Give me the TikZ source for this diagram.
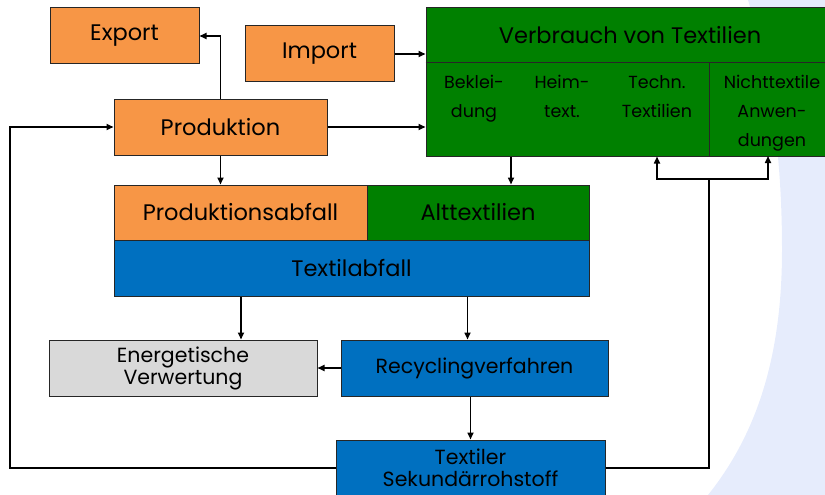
\documentclass[tikz,border=0pt]{standalone}
\usepackage{fontspec}
\setmainfont{Poppins}
\usepackage{tikz}
\usetikzlibrary{arrows.meta,positioning,calc}
\definecolor{figorange}{RGB}{247,150,70}
\definecolor{figgreen}{RGB}{0,128,0}
\definecolor{figblue}{RGB}{0,112,192}
\definecolor{figgray}{RGB}{217,217,217}
\definecolor{figback}{RGB}{230,236,252}
\tikzset{
  fnode/.style={draw=black!85,line width=1pt,align=center,inner sep=0pt,
                minimum height=56pt,font=\fontsize{22.5}{26}\selectfont},
  forange/.style={fnode,fill=figorange},
  fgreen/.style={fnode,fill=figgreen},
  fblue/.style={fnode,fill=figblue},
  fgray/.style={fnode,fill=figgray},
  fsmall/.style={font=\fontsize{20.5}{22}\selectfont},
  fsub/.style={align=center,inner sep=0pt,font=\fontsize{17.5}{29}\selectfont},
  fline/.style={black,line width=1.6pt},
  farrow/.style={fline,-{Triangle[length=7pt,width=6pt]}},
}

\begin{document}
\begin{tikzpicture}[x=1pt,y=-1pt]
    \useasboundingbox (0,0) rectangle (825,495);
    \clip (0,0) rectangle (825,495);
    \fill[figback] (748,0) .. controls (772,80) and (782,160) .. (782,250)
          .. controls (782,350) and (760,430) .. (708,495) -- (825,495) -- (825,0) -- cycle;
    \node[forange,minimum width=149pt] (export) at (124.5,36) {Export};
    \node[forange,minimum width=149pt] (import) at (319.5,54) {Import};
    \node[forange,minimum width=213pt] (prod) at (220.5,127) {Produktion};
    \node[fgreen,minimum width=414pt,minimum height=148pt] (verbrauch) at (633,82) {};
    \node[font=\fontsize{22.5}{26}\selectfont] (vtitle) at (630,35) {Verbrauch von Textilien};
    \draw[line width=1pt,black!85] (verbrauch.west |- 0,63) -- (verbrauch.east |- 0,63);
    \draw[line width=1pt,black!85] (709,63) -- (709,156);
    \node[fsub,anchor=north] (bekl) at (474,75) {Beklei-\\dung};
    \node[fsub,anchor=north] (heim) at (562,75) {Heim-\\text.};
    \node[fsub,anchor=north] (techn) at (657,75) {Techn.\\Textilien};
    \node[fsub,anchor=north] (nicht) at (772,75) {Nichttextile\\Anwen-\\dungen};
    \node[forange,minimum width=253pt,minimum height=55pt] (pabfall) at (240.5,212.5) {Produktionsabfall};
    \node[fgreen,minimum width=222pt,minimum height=55pt] (alttex) at (478,212.5) {Alttextilien};
    \node[fblue,minimum width=475pt] (tabfall) at (351.5,268) {Textilabfall};
    \node[fgray,fsmall,minimum width=268pt] (energ) at (183,368) {Energetische\\Verwertung};
    \node[fblue,fsmall,minimum width=267pt] (recyc) at (474.5,368) {Recyclingverfahren};
    \node[fblue,fsmall,minimum width=269pt] (sekund) at (470.5,468) {Textiler\\Sekundärrohstoff};
    \path ([xshift=33pt]alttex.north) coordinate (altin)
          ([xshift=58pt]energ.north) coordinate (enin)
          ([xshift=-7pt]recyc.north) coordinate (rcin);
    \coordinate (retl) at (10,127);
    \coordinate (split) at (709,179);
    \coordinate (nin) at (768,156);
    \draw[farrow] (prod.north) |- (export.east);
    \draw[farrow] (import.east) -- (import.east -| verbrauch.west);
    \draw[farrow] (prod.east) -- (prod.east -| verbrauch.west);
    \draw[farrow] (prod.south) -- (prod.south |- pabfall.north);
    \draw[farrow] (altin |- verbrauch.south) -- (altin);
    \draw[farrow] (enin |- tabfall.south) -- (enin);
    \draw[farrow] (rcin |- tabfall.south) -- (rcin);
    \draw[farrow] (recyc.west) -- (energ.east);
    \draw[farrow] (sekund.north |- recyc.south) -- (sekund.north);
    \draw[farrow] (sekund.west) -| (retl) -- (prod.west);
    \draw[fline] (sekund.east) -| (split);
    \draw[farrow] (split) -| (techn |- verbrauch.south);
    \draw[farrow] (split) -| (nin);
\end{tikzpicture}
\end{document}
